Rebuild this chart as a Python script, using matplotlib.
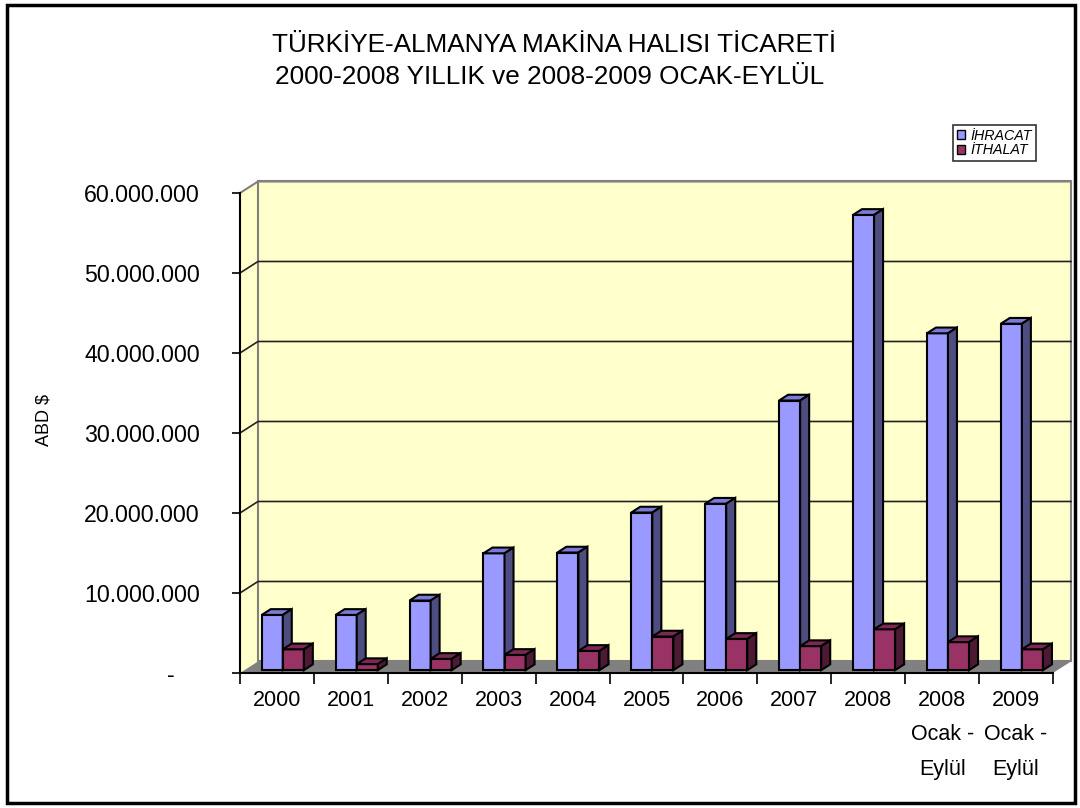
import matplotlib
matplotlib.use('Agg')
import matplotlib.pyplot as plt
from matplotlib.patches import Polygon, Rectangle, Patch

plt.rcParams['font.family'] = ['Liberation Sans', 'DejaVu Sans']

kategoriler = ['2000', '2001', '2002', '2003', '2004', '2005', '2006', '2007', '2008',
               '2008\nOcak -\nEylül', '2009\nOcak -\nEylül']
ihracat = [6.9e6, 6.9e6, 8.7e6, 14.6e6, 14.7e6, 19.7e6, 20.8e6, 33.7e6, 56.9e6, 42.1e6, 43.3e6]
ithalat = [2.6e6, 0.75e6, 1.4e6, 1.9e6, 2.4e6, 4.2e6, 3.9e6, 3.0e6, 5.1e6, 3.5e6, 2.6e6]
y_ticks = [0, 10e6, 20e6, 30e6, 40e6, 50e6, 60e6]
y_labels = ['-    ', '10.000.000', '20.000.000', '30.000.000', '40.000.000', '50.000.000', '60.000.000']

# kolory
mavi = ('#9999FF', '#7B7BD6', '#4D4D80')
bordo = ('#993366', '#7A2952', '#4D1A33')
duvar = '#FFFFCC'
zemin = '#808080'

n = len(kategoriler)
ymax = 60e6
DX, DY = 0.2436, 1.44e6   # glebokosc 3D w jednostkach danych
d0, d1 = 0.25, 0.75
w = 0.285

fig = plt.figure(figsize=(10.8, 8.08), dpi=100)
ax = fig.add_axes([240 / 1080, (808 - 673) / 808, 813 / 1080, 480 / 808])
ax.set_xlim(0, n)
ax.set_ylim(0, ymax)
ax.patch.set_visible(False)

# sciany
ax.add_patch(Polygon([(0, 0), (DX, DY), (DX, ymax + DY), (0, ymax)], closed=True,
                     facecolor=duvar, edgecolor='none', clip_on=False, zorder=0))
ax.add_patch(Rectangle((DX, DY), n, ymax, facecolor=duvar, edgecolor='#808080',
                       lw=1.5, clip_on=False, zorder=0))
ax.add_patch(Polygon([(0, 0), (n, 0), (n + DX, DY), (DX, DY)], closed=True,
                     facecolor=zemin, edgecolor='none', clip_on=False, zorder=1))
for t in y_ticks[1:]:
    c = '#808080' if t == ymax else '#222222'
    ax.plot([0, DX, n + DX], [t, t + DY, t + DY], color=c, lw=1.2 if t < ymax else 1.5,
            clip_on=False, zorder=1)


def slupek(x, v, kol):
    b = d0 * DY
    xf = x + d0 * DX
    ddx, ddy = (d1 - d0) * DX, (d1 - d0) * DY
    ax.bar(xf, v, width=w, bottom=b, align='edge', color=kol[0], edgecolor='black',
           lw=1.5, zorder=3)
    ax.add_patch(Polygon([(xf, v + b), (xf + w, v + b), (xf + w + ddx, v + b + ddy),
                          (xf + ddx, v + b + ddy)], closed=True, facecolor=kol[1],
                         edgecolor='black', lw=1.5, zorder=3, clip_on=False))
    ax.add_patch(Polygon([(xf + w, b), (xf + w, v + b), (xf + w + ddx, v + b + ddy),
                          (xf + w + ddx, b + ddy)], closed=True, facecolor=kol[2],
                         edgecolor='black', lw=1.5, zorder=3, clip_on=False))


for i in range(n):
    slupek(i + 0.233, ihracat[i], mavi)
    slupek(i + 0.233 + w, ithalat[i], bordo)

# osie
for s in ['top', 'right']:
    ax.spines[s].set_visible(False)
ax.spines['left'].set_linewidth(1.5)
ax.spines['bottom'].set_linewidth(1.5)
ax.spines['left'].set_zorder(2)
ax.spines['bottom'].set_zorder(2)

ax.set_yticks(y_ticks)
ax.set_yticklabels(y_labels, fontsize=16.7)
ax.tick_params(axis='y', length=6, width=1.2, pad=23)

ax.set_xticks(range(n + 1))
ax.set_xticklabels([])
ax.set_xticks([i + 0.5 for i in range(n)], minor=True)
ax.set_xticklabels(kategoriler, minor=True, fontsize=15.5, linespacing=1.85, va='top')
ax.tick_params(axis='x', which='major', length=8, width=1.2)
ax.tick_params(axis='x', which='minor', length=0, pad=12)

fig.text(44 / 1080, 1 - 420 / 808, 'ABD $', rotation=90, ha='center', va='center', fontsize=13)

fig.text(554 / 1080, 1 - 45 / 808, 'TÜRKİYE-ALMANYA MAKİNA HALISI TİCARETİ',
         ha='center', va='center', fontsize=18.8)
fig.text(550 / 1080, 1 - 77 / 808, '2000-2008 YILLIK ve 2008-2009 OCAK-EYLÜL',
         ha='center', va='center', fontsize=18.8)

uchwyty = [Patch(facecolor=mavi[0], edgecolor='black', label='İHRACAT'),
           Patch(facecolor=bordo[0], edgecolor='black', label='İTHALAT')]
leg = fig.legend(handles=uchwyty, loc='upper left', bbox_to_anchor=(953 / 1080, 1 - 125 / 808),
                 prop={'style': 'italic', 'size': 10.3}, frameon=True, fancybox=False,
                 edgecolor='black', borderpad=0.25, handlelength=0.6, handleheight=0.6,
                 handletextpad=0.4, labelspacing=0.05, borderaxespad=0)
leg.get_frame().set_linewidth(1.2)

fig.add_artist(Rectangle((7 / 1080, 5 / 808), 1068 / 1080, 798 / 808, transform=fig.transFigure,
                         fill=False, edgecolor='black', lw=2.5))

fig.savefig('out.png', dpi=100)
